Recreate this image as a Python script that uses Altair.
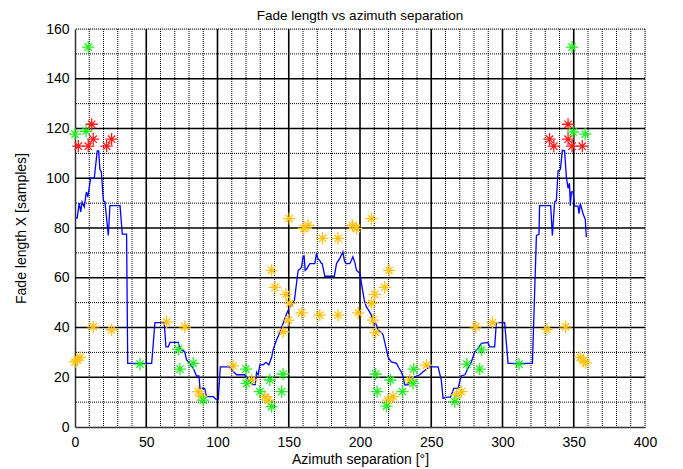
import altair as alt
import pandas as pd

# Blue line: fade length vs azimuth separation
line_x = [0.7, 1.5, 3, 4, 5, 6.5, 8, 9, 11, 13.5, 15.6, 16.6, 17.5, 18.5, 19.9, 21, 23.4, 24.5,
          31.6, 33.2, 36.2, 37, 53.8, 56.1, 62.6, 63.8, 65.5, 66.6, 72.5, 73.6, 75, 77, 78.3, 80,
          83, 85.3, 87, 87.7, 91, 92.3, 97, 99.3, 100.5, 102, 108.7, 110, 113.4, 119, 121.5, 123,
          125, 126.5, 127.4, 128.5, 129.7, 132, 134, 136, 138, 139, 141.4, 143, 146, 148.5, 150.8,
          152, 154, 155.5, 156.6, 158, 159, 160, 160.8, 161.5, 162.5, 164.8, 168.3, 169.5, 170.5,
          171.8, 172.5, 173.5, 175.3, 180, 182, 183.5, 186, 188, 189, 190, 192.8, 194, 195, 196.5,
          197.5, 200, 201.5, 203, 204.5, 206, 208, 209.7, 211, 212.7, 215, 216.2, 218.6, 219.7,
          222, 225.6, 227, 229, 230.2, 231.4, 233.7, 235, 238.4, 242, 244.3, 246, 249, 254.8, 257,
          258.3, 261, 263.5, 265.8, 268.8, 271, 273.6, 275.8, 278.2, 280.5, 282.8, 285.2, 289.8,
          291, 294.5, 295.7, 301.5, 303.9, 321, 323.8, 325.6, 326, 333.8, 335, 336.6, 337.8, 339,
          340.6, 342, 343.6, 344.8, 346, 347, 347.6, 348.3, 349.5, 350.6, 353, 353.7, 354.6, 356.5,
          358.1, 358.8]
line_y = [84, 84, 90, 86.5, 90.5, 88.5, 94.5, 92.5, 100, 100, 111, 111, 103.5, 102.5, 91, 90.5, 77, 89,
          89, 77.5, 77.5, 25.6, 25.6, 42, 42, 32.2, 32.2, 34, 34, 31.6, 31, 30.2, 27, 26,
          23.6, 20.5, 20.5, 15.5, 15.5, 12.2, 12.2, 11, 11, 24.2, 24.2, 23, 21, 21, 19, 18,
          17, 17, 22, 21, 25, 25, 26, 25, 28, 31, 35, 37, 41.6, 45.6, 48.3,
          49, 51, 58, 63, 63.5, 64.4, 68.4, 68.7, 63, 63.5, 65.7, 65.7, 69.8, 67.5,
          67, 66, 65.7, 60.6, 60.6, 60.6, 65.7, 68, 70.4, 67, 65.7, 65.7, 67, 68.4, 66,
          63, 61.7, 56, 51, 48.3, 47, 45, 41, 42, 39, 38, 37, 31, 28,
          26.2, 25.6, 24, 22.2, 20.2, 16.9, 16.9, 19, 20.2, 21, 22.2, 23, 24.2, 24.2, 19,
          11.5, 12, 12, 15.5, 15.5, 20.5, 21, 23.6, 26.2, 30.2, 31.6, 33.6, 34,
          32.2, 32.2, 42, 42, 25.6, 25.6, 77, 77.5, 89, 89, 77, 90.5, 91, 103,
          103.5, 111.2, 111, 100.5, 96, 98, 89, 94.5, 94.5, 88.8, 88.8, 85.8, 89.8, 85.8,
          83.4, 76.4]

red_x = [2.3, 9.3, 11.7, 12.8, 22.2, 25.7, 333, 336, 346, 346, 348.8, 356]
red_y = [112.9, 112.9, 121.7, 115.7, 112.9, 115.7, 115.7, 112.9, 121.7, 115.7, 112.9, 112.9]

green_x = [0, 7.7, 9.3, 348.8, 349.5, 358, 45.6, 72.5, 73.6, 83, 90, 120, 120.4, 129.7, 136.7,
           138, 146, 145, 211, 212, 221.4, 218.6, 229.8, 237.7, 237.2, 266.5, 275, 285.2, 284, 311.6]
green_y = [117.7, 118.9, 152.7, 152.7, 118.6, 117.7, 25.3, 31.2, 23.3, 25.6, 10.8, 23.3, 17.5, 14.2, 18.9,
           8.2, 21.3, 14.2, 21.3, 14.2, 18.9, 8.4, 14.2, 23.3, 17.5, 10.2, 25.3, 31, 23.3, 25.3]

orange_x = [0, 1.6, 3.5, 12.8, 25.7, 64.3, 77.1, 86.5, 88.8, 111, 124, 133.2, 135.6, 146, 149.6,
            150.8, 159, 171.8, 184.6, 198.7, 208, 209.2, 211, 219.7, 223.2, 235, 246.6,
            138, 140.3, 148, 150.3, 160.6, 163.6, 173.7, 184.6, 194.7, 197.5, 208, 220.4, 217.4, 210.4,
            267.7, 271.2, 281.2, 293, 331.2, 344.3, 354.6, 356.9, 358.4]
orange_y = [26.2, 26.9, 28, 40.3, 39, 42.3, 40.3, 14.2, 12.4, 24.6, 18.9, 12.2, 10.8, 38.3, 43,
            49.7, 45.9, 45, 45, 45.9, 49.7, 43, 38, 10.8, 12.2, 18.9, 24.9,
            63, 56.1, 53.3, 83.8, 79.8, 81.1, 75.8, 75.8, 81.1, 79.8, 83.8, 63, 56.1, 53.3,
            12.9, 14.2, 40.3, 42, 39.2, 40.3, 28, 26.6, 25.8]

x_ticks = [0, 50, 100, 150, 200, 250, 300, 350, 400]
y_ticks = [0, 20, 40, 60, 80, 100, 120, 140, 160]
x_major = [50, 100, 150, 200, 250, 300, 350]
y_major = [20, 40, 60, 80, 100, 120, 140]
x_minor = [v for v in range(10, 401, 10) if v not in x_major]
y_minor = [v for v in range(10, 161, 10) if v not in y_major]

FONT = "Liberation Sans"
xs = alt.Scale(domain=[0, 400], nice=False, zero=False)
ys = alt.Scale(domain=[0, 160], nice=False, zero=False)

xaxis = alt.Axis(
    values=x_ticks, title="Azimuth separation [°]", grid=False, ticks=False,
    labelFont=FONT, labelFontSize=14, labelColor="black", labelPadding=8,
    titleFont=FONT, titleFontSize=14, titleFontWeight="normal", titleColor="black",
    titlePadding=3, domainColor="#333333", domainWidth=1.5, labelFlush=False)
yaxis = alt.Axis(
    values=y_ticks, title="Fade length X [samples]", grid=False, ticks=False,
    labelFont=FONT, labelFontSize=14, labelColor="black", labelPadding=6,
    titleFont=FONT, titleFontSize=14, titleFontWeight="normal", titleColor="black",
    titlePadding=17, domainColor="#333333", domainWidth=1.5, labelFlush=False)

line_df = pd.DataFrame({"x": line_x, "y": line_y})
pts = pd.concat([
    pd.DataFrame({"x": orange_x, "y": orange_y, "s": "orange"}),
    pd.DataFrame({"x": green_x, "y": green_y, "s": "green"}),
    pd.DataFrame({"x": red_x, "y": red_y, "s": "red"}),
])

line = alt.Chart(line_df).mark_line(color="#0000FF", strokeWidth=1.3, interpolate="linear").encode(
    x=alt.X("x:Q", scale=xs, axis=xaxis),
    y=alt.Y("y:Q", scale=ys, axis=yaxis),
    order=alt.Order("x:Q"),
)

xminor = alt.Chart(pd.DataFrame({"x": x_minor})).mark_rule(
    color="black", strokeDash=[1, 1], strokeWidth=1).encode(
    x=alt.X("x:Q", scale=xs, axis=xaxis))
yminor = alt.Chart(pd.DataFrame({"y": y_minor})).mark_rule(
    color="black", strokeDash=[1, 1], strokeWidth=1).encode(
    y=alt.Y("y:Q", scale=ys, axis=yaxis))
xmajor = alt.Chart(pd.DataFrame({"x": x_major})).mark_rule(
    color="black", strokeWidth=1.6).encode(
    x=alt.X("x:Q", scale=xs, axis=xaxis))
ymajor = alt.Chart(pd.DataFrame({"y": y_major})).mark_rule(
    color="black", strokeWidth=1.6).encode(
    y=alt.Y("y:Q", scale=ys, axis=yaxis))

star = "M-1,0L1,0M0,-1L0,1M-0.6,-0.6L0.6,0.6M-0.6,0.6L0.6,-0.6"
markers = alt.Chart(pts).mark_point(shape=star, filled=False, size=150, strokeWidth=1.3, opacity=1).encode(
    x=alt.X("x:Q", scale=xs, axis=xaxis),
    y=alt.Y("y:Q", scale=ys, axis=yaxis),
    color=alt.Color("s:N", scale=alt.Scale(domain=["orange", "green", "red"],
                                           range=["#FFC20E", "#22EE22", "#FF1A1A"]), legend=None),
)

chart = alt.layer(xminor, yminor, xmajor, ymajor, line, markers).properties(
    width=570, height=398,
    title=alt.TitleParams("Fade length vs azimuth separation", font=FONT, fontSize=13.5,
                          fontWeight="normal", color="black", anchor="middle", frame="group",
                          offset=0),
    autosize=alt.AutoSizeParams(type="none"),
    padding={"left": 67, "top": 21, "right": 30, "bottom": 40},
).configure_view(stroke=None).configure(background="white")

chart.save("out.html", embed_options={"renderer": "svg", "actions": False})
